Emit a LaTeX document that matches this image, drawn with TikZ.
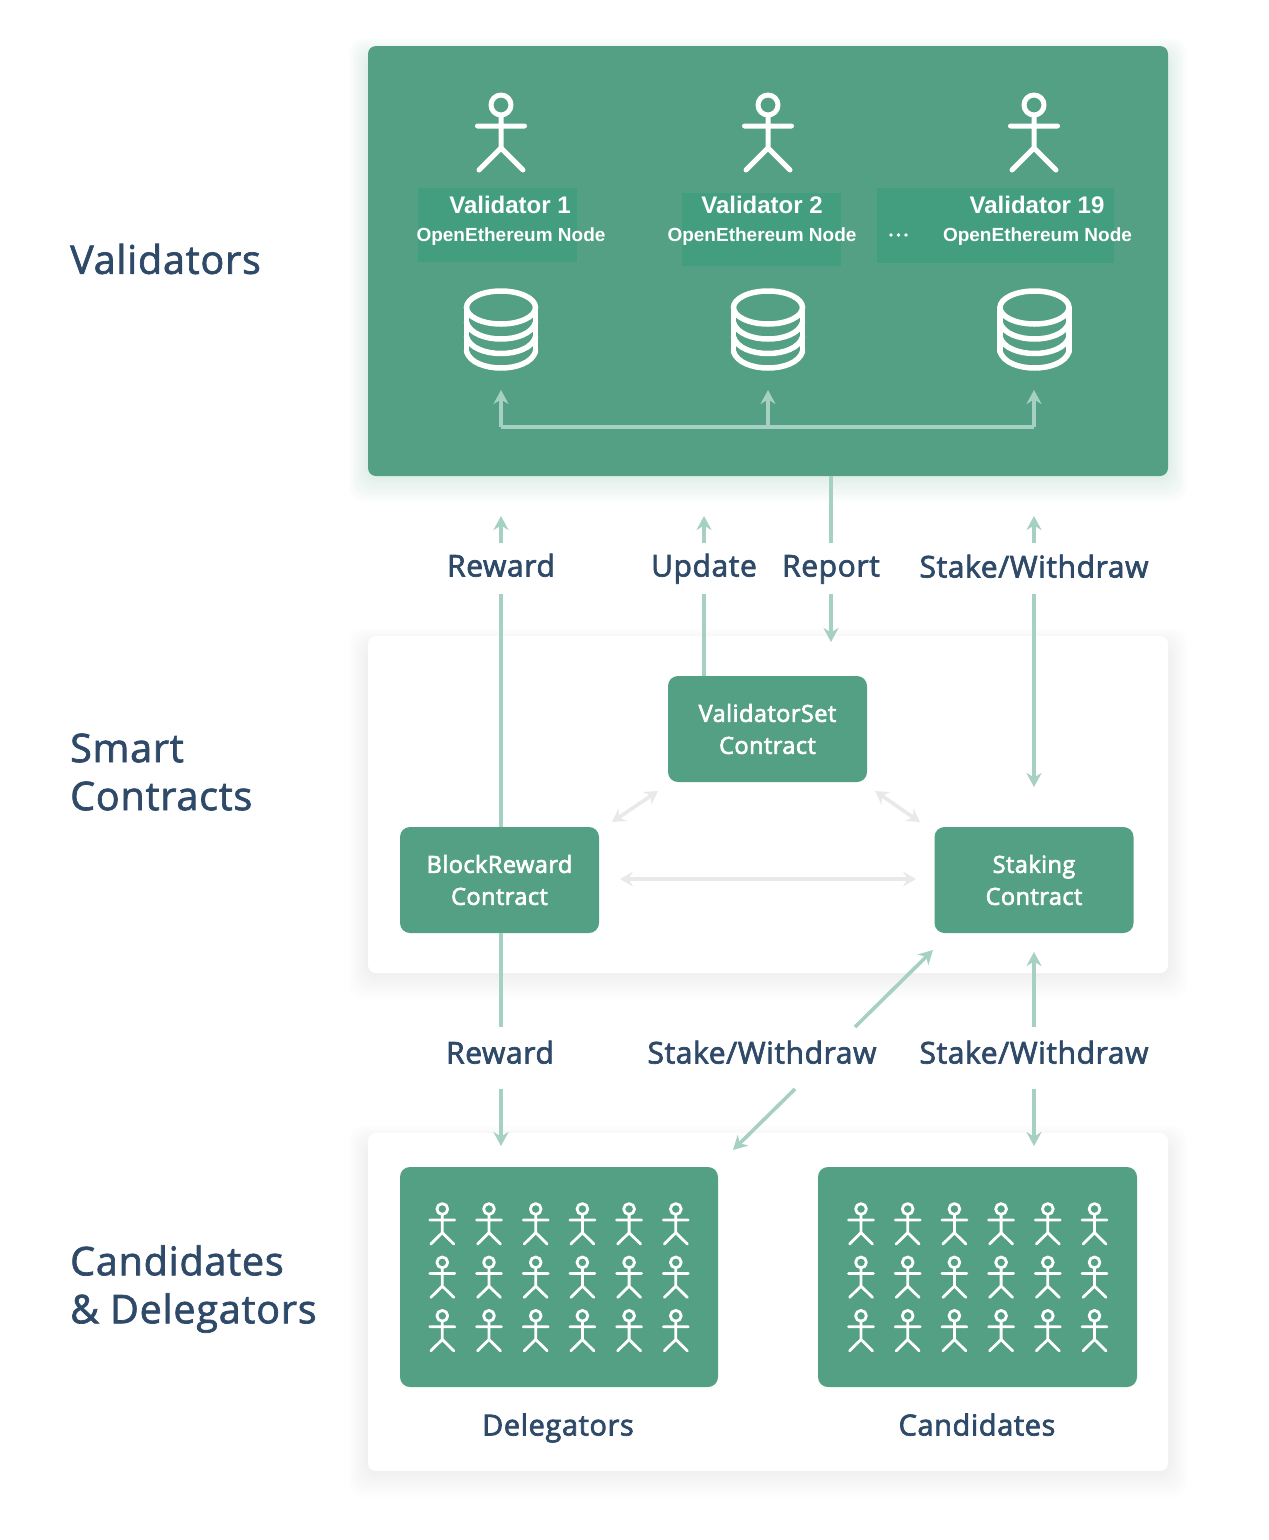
\documentclass[tikz,border=0pt]{standalone}
\usepackage{fontspec}
\usetikzlibrary{arrows.meta,calc}
\newfontfamily\labfont[LetterSpace=2]{Open Sans}
\newfontfamily\valfont[BoldFont={Liberation Sans Bold}]{Liberation Sans}
\newcommand{\heavier}{\special{pdf:code 2 Tr 0.7 w}}
\definecolor{panelgreen}{RGB}{83,160,133}
\definecolor{labelgreen}{RGB}{66,158,127}
\definecolor{linkgreen}{RGB}{166,208,195}
\definecolor{linkgrey}{RGB}{232,234,233}
\definecolor{navy}{RGB}{46,74,104}
\newcommand{\softshadow}[6]{%
  \foreach \i in {1,...,15}{
    \fill[#5,opacity=#6,rounded corners=14pt]
      ({#1-\i*1.3},{#2+10-\i*1.2}) rectangle ({#3+\i*1.3},{#4+\i*1.8});
  }}
\tikzset{
  x=1pt,y=-1pt,
  panelbox/.style={fill=white,rounded corners=8pt,inner sep=0pt,outer sep=0pt},
  greenbox/.style={fill=panelgreen,rounded corners=10pt,inner sep=0pt,outer sep=0pt},
  contractbox/.style={greenbox,minimum width=199pt,minimum height=106pt,text=white,align=center,
     font=\labfont\fontsize{23.5}{32}\selectfont},
  backbox/.style={fill=labelgreen,inner sep=0pt,outer sep=0pt},
  grouptitle/.style={text=navy,anchor=west,align=left,inner sep=0pt,
     font=\labfont\fontsize{39.5}{48}\selectfont},
  flowlabel/.style={text=navy,inner sep=0pt,text height=28pt,text depth=7pt,font=\labfont\fontsize{30}{36}\selectfont},
  personlabel/.style={flowlabel,font=\labfont\fontsize{29}{36}\selectfont},
  vtitle/.style={text=white,inner sep=0pt,font=\valfont\bfseries\fontsize{24}{28}\selectfont},
  vsub/.style={text=white,inner sep=0pt,text height=14pt,text depth=4pt,font=\valfont\bfseries\fontsize{19}{24}\selectfont},
  link/.style={draw=linkgreen,line width=3.6pt},
  flowarrow/.style={link,-{Stealth[length=14pt,width=15pt,inset=4.5pt]}},
  syncarrow/.style={draw=linkgrey,line width=3.6pt,{Stealth[length=13pt,width=15pt,inset=4.5pt]}-{Stealth[length=13pt,width=15pt,inset=4.5pt]}},
  pics/actor/.style={code={
    \draw[white,line width=5pt,line cap=round,line join=round]
      (0,-21) circle[radius=10]
      (0,-11) -- (0,22)
      (-23.5,0) -- (23.5,0)
      (-22,44) -- (0,22) -- (22,44);
  }},
  pics/miniactor/.style={code={
    \draw[white,line width=2.8pt,line cap=round,line join=round]
      (0,-11) circle[radius=5.4]
      (0,-5.6) -- (0,12.7)
      (-12.5,0) -- (12.5,0)
      (-11.5,24) -- (0,12.7) -- (11.5,24);
  }},
  pics/stack/.style={code={
    \begin{scope}[white,line width=5.5pt,line cap=round]
      \draw (0,0) ellipse[x radius=34.5,y radius=16.5];
      \draw (-34.5,0) -- (-34.5,44) (34.5,0) -- (34.5,44);
      \foreach \yy in {15,29.5,44}{
        \draw (-34.5,\yy) .. controls (-28,{\yy+22}) and (28,{\yy+22}) .. (34.5,\yy);
      }
    \end{scope}
  }},
  pics/crowd/.style={code={
    \foreach \cc in {0,...,5}{
      \foreach \rr in {0,1,2}{
        \pic at ({\cc*46.7},{\rr*53.4}) {miniactor};
      }
    }
  }}
}
\begin{document}
\begin{tikzpicture}
\useasboundingbox (0,0) rectangle (1269,1540);
% shadows
\softshadow{368}{46}{1168}{476}{panelgreen}{0.012}
\softshadow{368}{636}{1168}{973}{black}{0.0035}
\softshadow{368}{1133}{1168}{1471}{black}{0.0035}
% panels
\node[panelbox,fill=panelgreen,minimum width=800pt,minimum height=430pt] (valpanel) at (768,261) {};
\node[panelbox,minimum width=800pt,minimum height=337pt] (conpanel) at (768,804.5) {};
\node[panelbox,minimum width=800pt,minimum height=338pt] (delpanel) at (768,1302) {};
% group titles
\node[grouptitle] (tval) at (70,259) {\heavier Validators};
\node[grouptitle] (tcon) at (70,772) {\heavier Smart\\\heavier Contracts};
\node[grouptitle] (tdel) at (70,1289) {\heavier Candidates\\\heavier \& Delegators};
% validator label backgrounds
\node[backbox,minimum width=159pt,minimum height=74pt] (bk1) at (497.5,225) {};
\node[backbox,minimum width=159pt,minimum height=73pt] (bk2) at (761.5,229.5) {};
\node[backbox,minimum width=237pt,minimum height=75pt] (bk3) at (995.5,225.5) {};
% actors
\pic at (501,126) {actor};
\pic at (768,126) {actor};
\pic at (1034,126) {actor};
% validator labels
\node[vtitle] (v1) at (510,204.5) {Validator 1};
\node[vsub] (n1) at (511,236) {OpenEthereum Node};
\node[vtitle] (v2) at (762,204.5) {Validator 2};
\node[vsub] (n2) at (762,236) {OpenEthereum Node};
\node[vtitle] (v3) at (1037,204.5) {Validator 19};
\node[vsub] (n3) at (1037.5,236) {OpenEthereum Node};
\fill[white] (891,235) circle[radius=1.9] (898.5,235) circle[radius=1.9] (906,235) circle[radius=1.9];
% databases
\pic at (501,307.5) {stack};
\pic at (768,307.5) {stack};
\pic at (1034.5,307.5) {stack};
% bus
\coordinate (busL) at (501,427);
\coordinate (busM) at (768,427);
\coordinate (busR) at (1034,427);
\coordinate (tipL) at (501,390);
\coordinate (tipM) at (768,390);
\coordinate (tipR) at (1034,390);
\draw[link] (busL) -- (busR);
\draw[flowarrow] (busL) -- (tipL);
\draw[flowarrow] (busM) -- (tipM);
\draw[flowarrow] (busR) -- (tipR);
% contract boxes
\node[contractbox] (vs) at (767.5,729) {\heavier ValidatorSet\\\heavier Contract};
\node[contractbox] (br) at (499.5,880) {\heavier BlockReward\\\heavier Contract};
\node[contractbox] (st) at (1034,880) {\heavier Staking\\\heavier Contract};
% flow labels
\node[flowlabel] (rw1) at (501,566) {\heavier Reward};
\node[flowlabel] (up) at (704,566) {\heavier Update};
\node[flowlabel] (rp) at (831,566) {\heavier Report};
\node[flowlabel] (sw1) at (1034,567) {\heavier Stake/Withdraw};
\node[flowlabel] (rw2) at (500,1053) {\heavier Reward};
\node[flowlabel] (sw2) at (762,1053) {\heavier Stake/Withdraw};
\node[flowlabel] (sw3) at (1034,1053) {\heavier Stake/Withdraw};
% people boxes
\node[greenbox,minimum width=318pt,minimum height=220pt] (dg) at (559,1277) {};
\node[greenbox,minimum width=319pt,minimum height=220pt] (cd) at (977.5,1277) {};
\pic at (442.3,1220) {crowd};
\pic at (861,1220) {crowd};
\node[personlabel] (dl) at (558,1425) {\heavier Delegators};
\node[personlabel] (cl) at (977,1425) {\heavier Candidates};
% connector ends
\coordinate (a1) at (501,594);
\coordinate (a2) at (501,543);
\coordinate (a3) at (501,516);
\coordinate (b1) at (704,594);
\coordinate (b2) at (704,543);
\coordinate (b3) at (704,516);
\coordinate (c1) at (831,476);
\coordinate (c2) at (831,543);
\coordinate (c3) at (831,594);
\coordinate (c4) at (831,642);
\coordinate (d2) at (1034,543);
\coordinate (d3) at (1034,516);
\coordinate (d4) at (1034,594);
\coordinate (d5) at (1034,787);
\coordinate (brt) at (501,827);
\coordinate (brb) at (501,933);
\coordinate (vst) at (704,676);
\coordinate (e1) at (501,1027);
\coordinate (e2) at (501,1089);
\coordinate (e3) at (501,1146);
\coordinate (f1) at (855,1027);
\coordinate (f2) at (933,950);
\coordinate (f3) at (795,1089);
\coordinate (f4) at (733,1150);
\coordinate (g1) at (1034,1027);
\coordinate (g2) at (1034,952);
\coordinate (g3) at (1034,1089);
\coordinate (g4) at (1034,1146);
% flows
\draw[link] (brt) -- (a1);
\draw[flowarrow] (a2) -- (a3);
\draw[link] (vst) -- (b1);
\draw[flowarrow] (b2) -- (b3);
\draw[link] (c1) -- (c2);
\draw[flowarrow] (c3) -- (c4);
\draw[flowarrow] (d2) -- (d3);
\draw[flowarrow] (d4) -- (d5);
\draw[link] (brb) -- (e1);
\draw[flowarrow] (e2) -- (e3);
\draw[flowarrow] (f1) -- (f2);
\draw[flowarrow] (f3) -- (f4);
\draw[flowarrow] (g1) -- (g2);
\draw[flowarrow] (g3) -- (g4);
% contract sync arrows
\coordinate (s1) at (612,822);
\coordinate (s2) at (658,791);
\coordinate (s3) at (875,791);
\coordinate (s4) at (920,822);
\coordinate (s5) at (620,879);
\coordinate (s6) at (916,879);
\draw[syncarrow] (s1) -- (s2);
\draw[syncarrow] (s3) -- (s4);
\draw[syncarrow] (s5) -- (s6);
\end{tikzpicture}
\end{document}
